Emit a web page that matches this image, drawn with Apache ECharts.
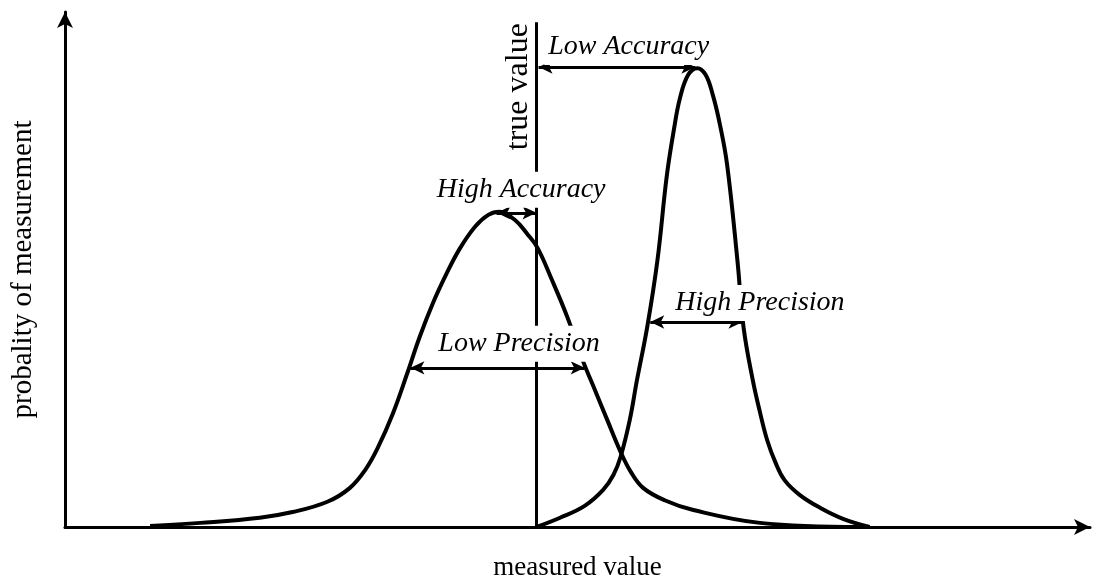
<!DOCTYPE html>
<html>
<head>
<meta charset="utf-8">
<script src="https://cdn.jsdelivr.net/npm/echarts@6/dist/echarts.min.js"></script>
<style>
  html, body { margin: 0; padding: 0; background: #fff; }
  #chart { width: 1095px; height: 578px; }
</style>
</head>
<body>
<div id="chart"></div>
<script>
var trueValue = 46
var trueTop = 98

var wideX = [8.3, 13.2, 19.0, 22.2, 25.6, 27.8, 29.3, 30.5, 32.0, 33.4, 34.6, 35.9, 37.2, 38.5, 40.0, 41.3, 42.4, 43.9, 45.1, 46.1, 47.5, 49.0, 50.5, 51.7, 52.9, 54.2, 55.2, 56.4, 58.5, 61.3, 67.8, 77.6]
var wideY = [0.2, 0.8, 1.8, 2.9, 4.9, 7.6, 11.1, 15.3, 22.1, 29.9, 36.9, 43.5, 49.1, 54.0, 58.3, 60.6, 61.2, 59.6, 56.9, 54.2, 48.0, 40.8, 32.4, 26.6, 20.8, 14.6, 10.7, 7.6, 5.2, 3.3, 0.8, 0]

var narrowX = [46.0, 48.3, 50.7, 52.5, 53.5, 54.2, 55.1, 55.8, 56.8, 57.8, 58.7, 59.4, 60.0, 60.8, 61.7, 62.5, 63.2, 63.9, 64.6, 65.6, 66.2, 67.1, 67.8, 68.5, 69.3, 70.2, 71.7, 73.7, 75.9, 78.5]
var narrowY = [0, 1.8, 4.1, 7.2, 10.1, 13.6, 20.8, 28.5, 38.8, 51.8, 68.0, 77.1, 83.3, 87.8, 89.1, 87.8, 83.9, 78.1, 70.3, 51.8, 38.8, 28.5, 22.3, 16.9, 12.6, 9.1, 6.2, 3.7, 1.6, 0]

// double arrows: [from x, to x, at y]
var arrowNames = ['Low Accuracy', 'High Accuracy', 'Low Precision', 'High Precision']
var arrowFrom = [46.2, 42.1, 33.7, 57.1]
var arrowTo = [61.5, 46.0, 50.7, 66.1]
var arrowY = [89.3, 61.0, 30.9, 39.8]

// where the annotation texts sit
var labelX = [55.0, 44.5, 44.3, 67.8]
var labelY = [93.2, 65.5, 35.6, 43.5]

var myChart = echarts.init(document.getElementById('chart'))
var font = 'Liberation Serif'

function pairs (xs, ys) {
  return xs.map(function (x, i) { return [x, ys[i]] })
}

var arrowLines = arrowNames.map(function (n, i) {
  return [{ coord: [arrowFrom[i], arrowY[i]] }, { coord: [arrowTo[i], arrowY[i]] }]
})

var textData = arrowNames.map(function (n, i) {
  return { name: n, value: [labelX[i], labelY[i]] }
})
textData.push({
  name: 'true value',
  value: [44.3, 85.5],
  label: { rotate: 90, fontStyle: 'normal', fontSize: 32, backgroundColor: 'transparent', padding: 0 }
})

var option = {
  backgroundColor: '#fff',
  animation: false,
  grid: { left: 65, right: 5, top: 12, bottom: 51, outerBoundsMode: 'none' },
  xAxis: {
    type: 'value',
    min: 0,
    max: 100,
    name: 'measured value',
    nameLocation: 'middle',
    nameGap: 27,
    nameTextStyle: { fontFamily: font, fontSize: 27, color: '#000' },
    axisLine: { lineStyle: { color: '#000', width: 3 }, symbol: ['none', 'arrow'], symbolSize: [12, 16] },
    axisTick: { show: false },
    axisLabel: { show: false },
    splitLine: { show: false }
  },
  yAxis: {
    type: 'value',
    min: 0,
    max: 100,
    name: 'probality of measurement',
    nameLocation: 'middle',
    nameGap: 27,
    nameTextStyle: { fontFamily: font, fontSize: 29, color: '#000' },
    axisLine: { show: true, lineStyle: { color: '#000', width: 3 }, symbol: ['none', 'arrow'], symbolSize: [12, 16] },
    axisTick: { show: false },
    axisLabel: { show: false },
    splitLine: { show: false }
  },
  series: [
    {
      name: 'wide',
      type: 'line',
      smooth: 0.4,
      showSymbol: false,
      data: pairs(wideX, wideY),
      lineStyle: { color: '#000', width: 4 },
      z: 2
    },
    {
      name: 'narrow',
      type: 'line',
      smooth: 0.4,
      showSymbol: false,
      data: pairs(narrowX, narrowY),
      lineStyle: { color: '#000', width: 4 },
      z: 2
    },
    {
      name: 'marks',
      type: 'line',
      data: [],
      z: 3,
      markLine: {
        silent: true,
        animation: false,
        data: [
          [{ coord: [trueValue, 0], symbol: 'none' }, { coord: [trueValue, trueTop], symbol: 'none' }]
        ].concat(arrowLines),
        symbol: ['arrow', 'arrow'],
        symbolSize: [10, 14],
        label: { show: false },
        lineStyle: { color: '#000', width: 3, type: 'solid' }
      }
    },
    {
      name: 'texts',
      type: 'scatter',
      symbolSize: 0,
      itemStyle: { opacity: 1 },
      z: 10,
      data: textData,
      label: {
        show: true,
        position: 'inside',
        formatter: '{b}',
        color: '#000',
        fontFamily: font,
        fontStyle: 'italic',
        fontSize: 28,
        backgroundColor: '#fff',
        padding: [4, 4]
      }
    }
  ]
}
myChart.setOption(option)
</script>
</body>
</html>
